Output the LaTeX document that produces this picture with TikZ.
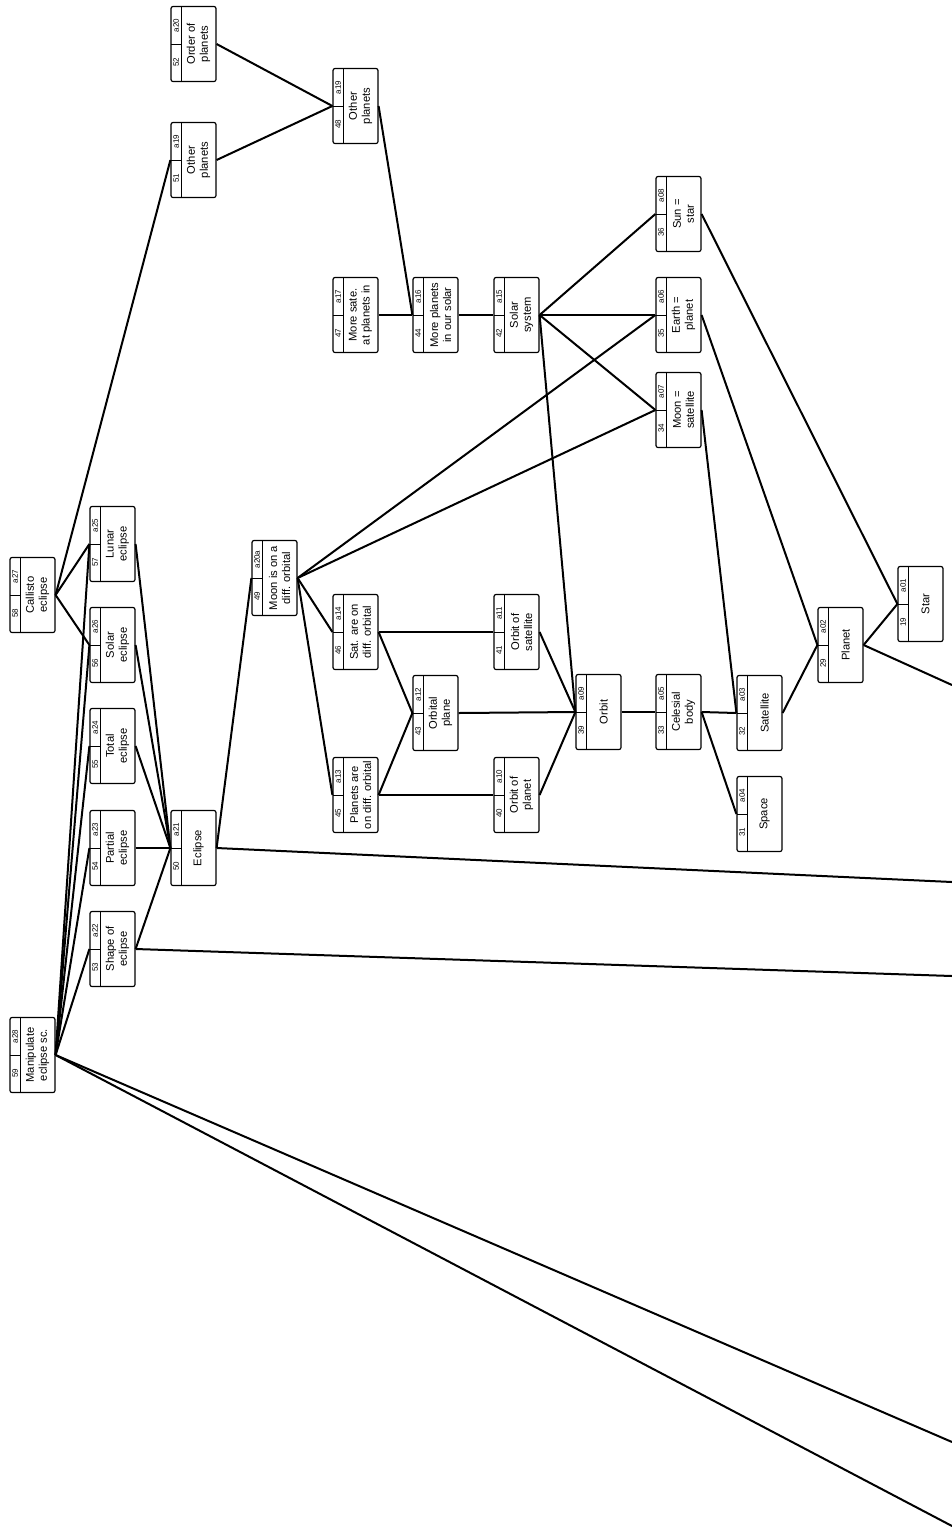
\documentclass[tikz,border=0pt]{standalone}
\usepackage{fontspec}
\setmainfont{Liberation Sans}
\usetikzlibrary{calc}

% one concept box: name, x, y, number, id, text
\newcommand\cbox[6]{%
  \node[cbox] (#1) at (#2,#3) {};
  \draw[hdr] (#2-12.5,#3-37.5) -- (#2-12.5,#3+37.5);
  \draw[hdr] (#2-22.5,#3) -- (#2-12.5,#3);
  \node[numtxt] (#1-n) at (#2-17.3,#3+18.5) {#4};
  \node[numtxt] (#1-i) at (#2-17.3,#3-18.5) {#5};
  \node[boxtxt] (#1-t) at (#2+5,#3) {#6};
}

\begin{document}
\begin{tikzpicture}[x=0.5pt,y=-0.5pt,
  cbox/.style={draw,rotate=90,minimum width=37.5pt,minimum height=22.5pt,inner sep=0pt,rounded corners=1pt,line width=0.6pt},
  hdr/.style={line width=0.5pt},
  numtxt/.style={rotate=90,inner sep=0pt,font=\fontsize{4}{4.5}\selectfont},
  boxtxt/.style={rotate=90,inner sep=0pt,align=center,font=\fontsize{5.6}{6.5}\selectfont},
  link/.style={line width=1pt}]
\useasboundingbox (0,0) rectangle (952,1528);

% ===== left columns =====
\cbox{calli}{32.5}{595}{58}{a27}{Callisto\\eclipse}
\cbox{manip}{32.5}{1055}{59}{a28}{Manipulate\\eclipse sc.}
\cbox{lunar}{112.5}{544}{57}{a25}{Lunar\\eclipse}
\cbox{solar}{112.5}{645}{56}{a26}{Solar\\eclipse}
\cbox{total}{112.5}{746}{55}{a24}{Total\\eclipse}
\cbox{partial}{112.5}{848}{54}{a23}{Partial\\eclipse}
\cbox{shape}{112.5}{949}{53}{a22}{Shape of\\eclipse}
\cbox{eclip}{193.5}{848}{50}{a21}{Eclipse}
\cbox{othA}{193.5}{160}{51}{a19}{Other\\planets}
\cbox{order}{193.5}{44}{52}{a20}{Order of\\planets}
\cbox{moonon}{274.5}{578}{49}{a20a}{Moon is on a\\diff. orbital}

% ===== middle columns =====
\cbox{othB}{355.5}{106}{48}{a19}{Other\\planets}
\cbox{mores}{355.5}{315}{47}{a17}{More sate.\\at planets in}
\cbox{satdiff}{355.5}{632}{46}{a14}{Sat. are on\\diff. orbital}
\cbox{pladiff}{355.5}{795}{45}{a13}{Planets are\\on diff. orbital}
\cbox{morep}{435.5}{315}{44}{a16}{More planets\\in our solar}
\cbox{oplane}{435.5}{713}{43}{a12}{Orbital\\plane}
\cbox{solsys}{516.5}{315}{42}{a15}{Solar\\system}
\cbox{osat}{516.5}{632}{41}{a11}{Orbit of\\satellite}
\cbox{opla}{516.5}{795}{40}{a10}{Orbit of\\planet}
\cbox{orbit}{598.5}{712}{39}{a09}{Orbit}

% ===== right columns =====
\cbox{sun}{678.5}{214}{36}{a08}{Sun =\\star}
\cbox{earth}{678.5}{315}{35}{a06}{Earth =\\planet}
\cbox{moon}{678.5}{410}{34}{a07}{Moon =\\satellite}
\cbox{celes}{678.5}{712}{33}{a05}{Celesial\\body}
\cbox{satel}{759.5}{713}{32}{a03}{Satellite}
\cbox{space}{759.5}{814}{31}{a04}{Space}
\cbox{planet}{840.5}{645}{29}{a02}{Planet}
\cbox{star}{920.5}{604}{19}{a01}{Star}

% free ends at the right border
\coordinate (off1) at (952,1442);
\coordinate (off2) at (952,1526);
\coordinate (off3) at (952,976);
\coordinate (off4) at (952,882);
\coordinate (off5) at (952,685);

% links
\foreach \a/\b in {manip/lunar,manip/solar,manip/total,manip/partial,manip/shape,
  calli/lunar,calli/solar,calli/othA,
  lunar/eclip,solar/eclip,total/eclip,partial/eclip,shape/eclip,eclip/moonon,
  moonon/satdiff,moonon/pladiff,moonon/earth,moonon/moon,
  order/othB,othA/othB,othB/morep,mores/morep,morep/solsys,
  solsys/sun,solsys/earth,solsys/moon,solsys/orbit,
  satdiff/osat,satdiff/oplane,pladiff/opla,pladiff/oplane,
  oplane/orbit,osat/orbit,opla/orbit,orbit/celes,celes/satel,celes/space,
  moon/satel,earth/planet,sun/star,satel/planet,planet/star}{
  \draw[link] (\a.south) -- (\b.north);}
\foreach \a/\b in {manip/off1,manip/off2,shape/off3,eclip/off4,planet/off5}{
  \draw[link] (\a.south) -- (\b);}
\end{tikzpicture}
\end{document}
